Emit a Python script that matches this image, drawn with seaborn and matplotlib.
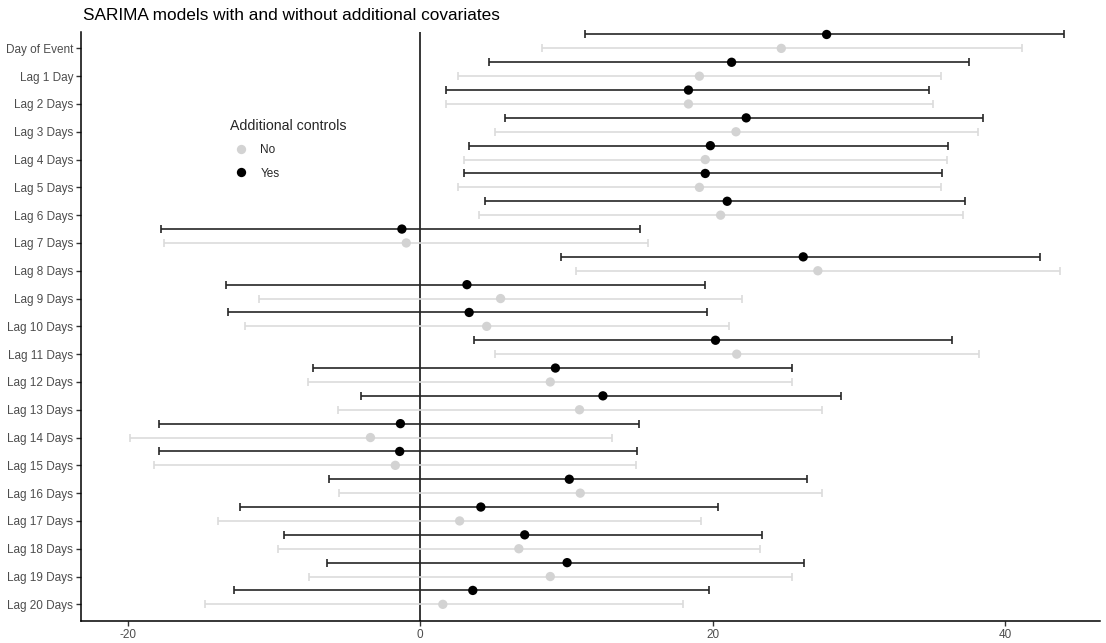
import matplotlib
matplotlib.use("Agg")
import matplotlib.pyplot as plt
import seaborn as sns
import pandas as pd
import numpy as np

categories = ["Day of Event", "Lag 1 Day"] + [f"Lag {i} Days" for i in range(2, 21)]

yes_est = [27.8, 21.3, 18.35, 22.3, 19.85, 19.5, 21.0, -1.25, 26.2, 3.2, 3.35, 20.2,
           9.25, 12.5, -1.35, -1.4, 10.2, 4.15, 7.15, 10.05, 3.6]
yes_lo = [11.3, 4.7, 1.75, 5.8, 3.35, 3.0, 4.45, -17.75, 9.65, -13.3, -13.15, 3.7,
          -7.3, -4.05, -17.85, -17.85, -6.25, -12.3, -9.3, -6.4, -12.75]
yes_hi = [44.05, 37.55, 34.8, 38.5, 36.1, 35.7, 37.25, 15.05, 42.4, 19.5, 19.6, 36.4,
          25.45, 28.75, 14.95, 14.8, 26.45, 20.35, 23.4, 26.25, 19.75]

no_est = [24.7, 19.1, 18.35, 21.6, 19.5, 19.1, 20.55, -0.95, 27.2, 5.5, 4.55, 21.65,
          8.9, 10.9, -3.4, -1.7, 10.95, 2.7, 6.75, 8.9, 1.55]
no_lo = [8.3, 2.6, 1.75, 5.1, 3.0, 2.6, 4.05, -17.5, 10.65, -11.05, -11.95, 5.15,
         -7.65, -5.6, -19.85, -18.2, -5.55, -13.8, -9.75, -7.6, -14.75]
no_hi = [41.15, 35.65, 35.05, 38.15, 36.0, 35.65, 37.1, 15.55, 43.75, 22.0, 21.1, 38.2,
         25.4, 27.45, 13.1, 14.75, 27.45, 19.2, 23.25, 25.4, 18.0]

groups = ["No", "Yes"]
x_ticks = [-20, 0, 20, 40]

sns.set_theme(style="ticks")
plt.rcParams["font.family"] = ["Liberation Sans", "DejaVu Sans"]
plt.rcParams["axes.unicode_minus"] = False

idx = np.arange(len(categories))
df = pd.concat([
    pd.DataFrame({"category": categories, "pos": idx, "est": no_est, "lo": no_lo,
                  "hi": no_hi, "controls": "No"}),
    pd.DataFrame({"category": categories, "pos": idx - 0.5, "est": yes_est, "lo": yes_lo,
                  "hi": yes_hi, "controls": "Yes"}),
], ignore_index=True)

palette = {"No": "#d3d3d3", "Yes": "#000000"}
bar_colors = {"No": "#dcdcdc", "Yes": "#262626"}

fig = plt.figure(figsize=(11.06, 6.43), dpi=100)
ax = fig.add_axes([0.0732, 0.0342, 0.9214, 0.9165])

for g in groups:
    sub = df[df["controls"] == g]
    _, caps, bars = ax.errorbar(sub["est"], sub["pos"],
                xerr=[sub["est"] - sub["lo"], sub["hi"] - sub["est"]],
                fmt="none", ecolor=bar_colors[g], elinewidth=1.2, capsize=3.2,
                capthick=1.2, zorder=2)
    for c in caps:
        c.set_clip_on(False)
    for b in bars:
        b.set_clip_on(False)

ax.axvline(0, color="black", linewidth=1.1, zorder=1)

sns.scatterplot(data=df, x="est", y="pos", hue="controls", hue_order=groups,
                palette=palette, s=45, edgecolor="none", linewidth=0, ax=ax, zorder=3,
                clip_on=False)

ax.set_ylim(20.6, -0.6)
ax.set_xlim(-23.2, 46.5)
ax.set_yticks(idx)
ax.set_yticklabels(categories)
ax.set_xticks(x_ticks)
ax.set_xlabel("")
ax.set_ylabel("")
ax.tick_params(axis="both", colors="#333333", labelcolor="#4d4d4d", labelsize=8.5,
               length=3.5, width=1, pad=2)
for side in ["top", "right"]:
    ax.spines[side].set_visible(False)
for side in ["left", "bottom"]:
    ax.spines[side].set_linewidth(1.1)
    ax.spines[side].set_color("black")

sns.move_legend(ax, loc="upper left", bbox_to_anchor=(0.198, 0.832),
                bbox_transform=fig.transFigure, title="Additional controls",
                frameon=False, fontsize=8.5, title_fontsize=10.2, labelspacing=1.0,
                handletextpad=0.6, markerscale=1.0)
leg = ax.get_legend()
leg._legend_box.align = "left"
leg._legend_box.sep = 8

fig.text(0.075, 1 - 16 / 643, "SARIMA models with and without additional covariates",
         ha="left", va="center", fontsize=12.4, color="black")

fig.savefig("out.png", dpi=100)
